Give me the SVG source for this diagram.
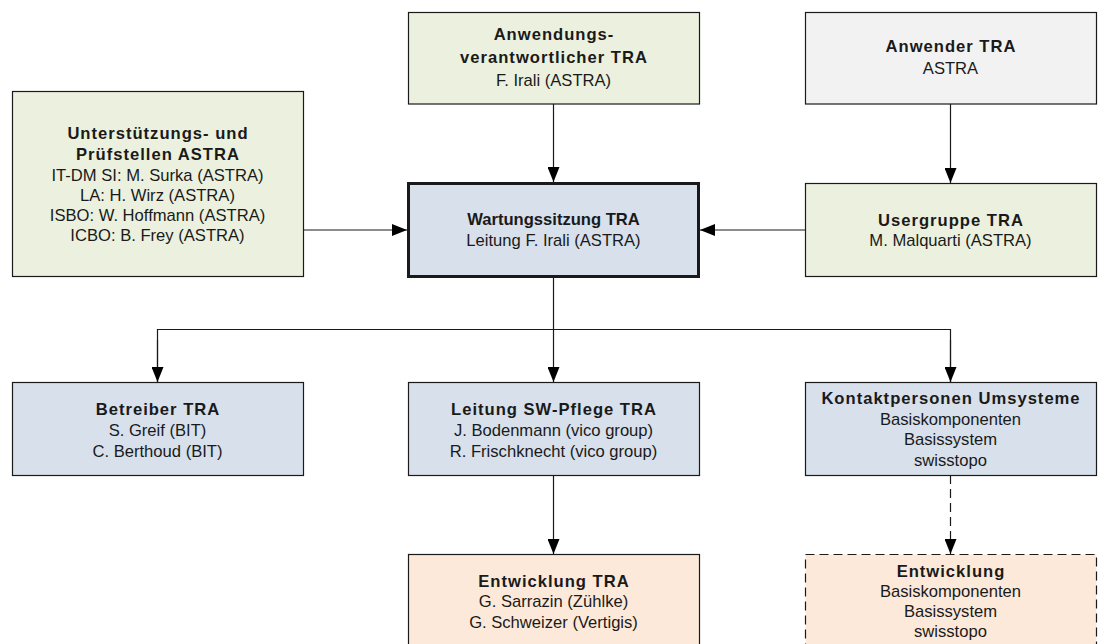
<svg xmlns="http://www.w3.org/2000/svg" width="1101" height="644" viewBox="0 0 1101 644">
<style>
.box{stroke:#1a1a1a;stroke-width:1.2}
.g{fill:#EBF1DE}.gr{fill:#F2F2F2}.b{fill:#D7E0EB}.p{fill:#FDE9D9}
.thick{stroke-width:3}
.dash{stroke-dasharray:9 5}
text{font-family:"Liberation Sans",Arial,sans-serif;font-size:16.6px;fill:#1a1a1a;text-anchor:middle}
.t{font-weight:bold;letter-spacing:1px}
.t0{font-weight:bold}
.c{fill:none;stroke:#1a1a1a;stroke-width:1.2}
</style>
<defs>
<marker id="ah" markerUnits="userSpaceOnUse" markerWidth="16" markerHeight="12" refX="15" refY="6" orient="auto">
<path d="M0,0 L15,6 L0,12 z" fill="#000"/>
</marker>
</defs>
<rect width="1101" height="644" fill="#fff"/>
<g id="connectors">
<path class="c" d="M553.5,104 L553.5,182" marker-end="url(#ah)"/>
<path class="c" d="M950.5,104 L950.5,183" marker-end="url(#ah)"/>
<path class="c" d="M303,230 L407,230" marker-end="url(#ah)"/>
<path class="c" d="M805,230 L700,230" marker-end="url(#ah)"/>
<path class="c" d="M553.5,278 L553.5,382" marker-end="url(#ah)"/>
<path class="c" d="M157.5,382 L157.5,329.5 L950.5,329.5 L950.5,382"/>
<path class="c" d="M157.5,340 L157.5,382" marker-end="url(#ah)"/>
<path class="c" d="M950.5,340 L950.5,382" marker-end="url(#ah)"/>
<path class="c" d="M553.5,475 L553.5,554" marker-end="url(#ah)"/>
<path class="c dash" d="M950.5,475 L950.5,554" marker-end="url(#ah)"/>
</g>
<g id="unterstuetzung">
<rect class="box g" x="12.5" y="91.5" width="291" height="185"/>
<text x="158" y="139" class="t">Unterstützungs- und</text>
<text x="158" y="160" class="t">Prüfstellen ASTRA</text>
<text x="157.5" y="181">IT-DM SI: M. Surka (ASTRA)</text>
<text x="157.5" y="201">LA: H. Wirz (ASTRA)</text>
<text x="157.5" y="221">ISBO: W. Hoffmann (ASTRA)</text>
<text x="157.5" y="241">ICBO: B. Frey (ASTRA)</text>
</g>
<g id="anwendungsverantwortlicher">
<rect class="box g" x="408.5" y="12.5" width="291" height="91.5"/>
<text x="554" y="40" class="t">Anwendungs-</text>
<text x="554" y="63" class="t">verantwortlicher TRA</text>
<text x="553.5" y="86">F. Irali (ASTRA)</text>
</g>
<g id="anwender">
<rect class="box gr" x="805.5" y="12.5" width="291" height="91.5"/>
<text x="951" y="52" class="t">Anwender TRA</text>
<text x="950.5" y="74">ASTRA</text>
</g>
<g id="wartungssitzung">
<rect class="box b thick" x="408.5" y="183.5" width="290" height="93"/>
<text x="553.5" y="225" class="t0">Wartungssitzung TRA</text>
<text x="553.5" y="246">Leitung F. Irali (ASTRA)</text>
</g>
<g id="usergruppe">
<rect class="box g" x="805.5" y="183.5" width="291" height="93"/>
<text x="951" y="225.5" class="t">Usergruppe TRA</text>
<text x="950.5" y="246">M. Malquarti (ASTRA)</text>
</g>
<g id="betreiber">
<rect class="box b" x="12.5" y="382.5" width="291" height="93"/>
<text x="158" y="415" class="t">Betreiber TRA</text>
<text x="157.5" y="436">S. Greif (BIT)</text>
<text x="157.5" y="457">C. Berthoud (BIT)</text>
</g>
<g id="leitung-sw-pflege">
<rect class="box b" x="408.5" y="382.5" width="291" height="93"/>
<text x="554" y="415" class="t">Leitung SW-Pflege TRA</text>
<text x="553.5" y="436">J. Bodenmann (vico group)</text>
<text x="553.5" y="457">R. Frischknecht (vico group)</text>
</g>
<g id="kontaktpersonen">
<rect class="box b" x="805.5" y="382.5" width="291" height="93"/>
<text x="951" y="404" class="t">Kontaktpersonen Umsysteme</text>
<text x="950.5" y="425">Basiskomponenten</text>
<text x="950.5" y="445">Basissystem</text>
<text x="950.5" y="466">swisstopo</text>
</g>
<g id="entwicklung-tra">
<rect class="box p" x="408.5" y="554.5" width="291" height="94"/>
<text x="554" y="587" class="t">Entwicklung TRA</text>
<text x="553.5" y="607">G. Sarrazin (Zühlke)</text>
<text x="553.5" y="628">G. Schweizer (Vertigis)</text>
</g>
<g id="entwicklung">
<rect class="box p dash" x="805.5" y="554.5" width="291" height="94"/>
<text x="951" y="577" class="t">Entwicklung</text>
<text x="950.5" y="597">Basiskomponenten</text>
<text x="950.5" y="617">Basissystem</text>
<text x="950.5" y="637">swisstopo</text>
</g>
</svg>
